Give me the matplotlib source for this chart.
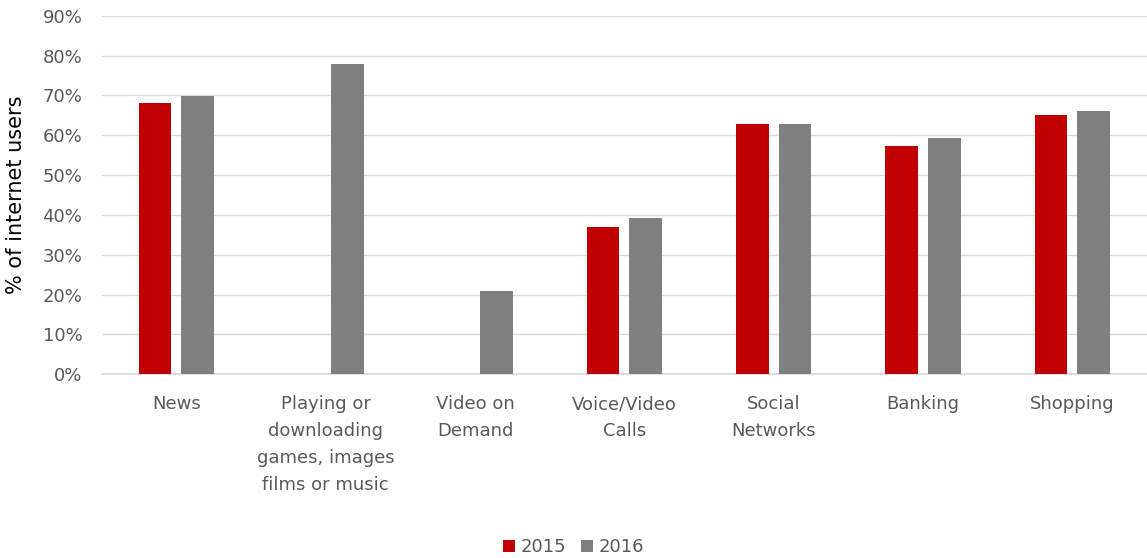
import matplotlib.pyplot as plt
import numpy as np

categorias = ['News', 'Playing or\ndownloading\ngames, images\nfilms or music', 'Video on\nDemand',
              'Voice/Video\nCalls', 'Social\nNetworks', 'Banking', 'Shopping']
valores_2015 = [68.2, 0, 0, 37.0, 62.7, 57.3, 65.0]
valores_2016 = [69.8, 77.9, 20.9, 39.2, 62.7, 59.2, 66.0]

plt.rcParams['font.family'] = ['DejaVu Sans']

fig = plt.figure(figsize=(11.47, 5.58), dpi=100)
ax = fig.add_axes([0.0887, 0.3292, 0.9113, 0.6427])

x = np.arange(len(categorias))
ancho = 0.22
ax.bar(x - 0.143, valores_2015, ancho, color='#C00000', label='2015', zorder=3)
ax.bar(x + 0.143, valores_2016, ancho, color='#808080', label='2016', zorder=3)

ax.set_xlim(-0.5, 6.5)
ax.set_ylim(0, 90)
ax.set_yticks(range(0, 91, 10))
ax.set_yticklabels([f'{v}%' for v in range(0, 91, 10)], fontsize=13, color='#595959')
ax.set_xticks(x)
ax.set_xticklabels(categorias, fontsize=13, color='#595959', linespacing=1.65, va='top')
ax.tick_params(axis='both', length=0)
ax.tick_params(axis='x', pad=15)
ax.tick_params(axis='y', pad=14)
ax.grid(axis='y', color='#D9D9D9', linewidth=1, zorder=0)
ax.axhline(0, color='#D9D9D9', linewidth=1.2, zorder=1, clip_on=False)
for s in ax.spines.values():
    s.set_visible(False)

ax.set_ylabel('% of internet users', fontsize=15, color='black')
ax.yaxis.set_label_coords(-0.072, 0.5)

fig.legend(loc='lower center', bbox_to_anchor=(0.5, -0.026), ncol=2, frameon=False,
           fontsize=13, handlelength=0.7, handleheight=0.7, handletextpad=0.3,
           columnspacing=0.8, labelcolor='#595959')

fig.savefig('out.png', dpi=100)
